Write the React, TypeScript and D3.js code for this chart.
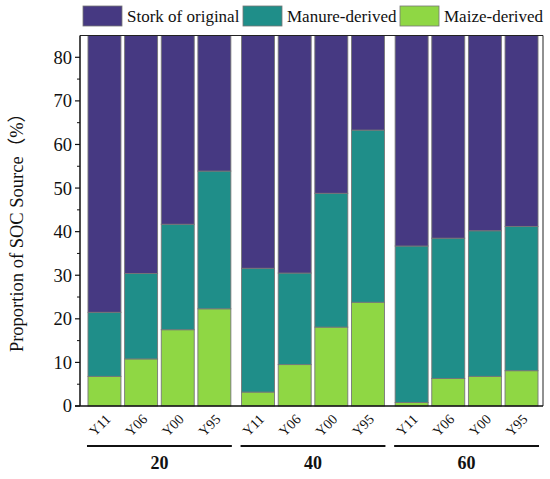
import React from "react";
import * as d3 from "d3";

const groups = ["20", "40", "60"];
const years = ["Y11", "Y06", "Y00", "Y95"];
const seriesKeys = ["maize", "manure", "stork"];
const seriesLabels = ["Stork of original", "Manure-derived", "Maize-derived"];
const maize = [
  [6.8, 10.8, 17.5, 22.3],
  [3.2, 9.5, 18.1, 23.8],
  [0.8, 6.3, 6.8, 8.1],
];
const manure = [
  [14.7, 19.6, 24.2, 31.6],
  [28.4, 21.0, 30.7, 39.5],
  [35.9, 32.2, 33.4, 33.1],
];
const stork = [
  [78.5, 69.6, 58.3, 46.1],
  [68.4, 69.5, 51.2, 36.7],
  [63.3, 61.5, 59.8, 58.8],
];
const yTicks = [0, 10, 20, 30, 40, 50, 60, 70, 80];
const yMinorTicks = [5, 15, 25, 35, 45, 55, 65, 75];

const colors: Record<string, string> = {
  stork: "#463982",
  manure: "#1f8e89",
  maize: "#8fd744",
};
const legendKeys = ["stork", "manure", "maize"];

const FONT = "'Liberation Serif', 'Times New Roman', 'Noto Sans CJK SC', serif";

export default function App() {
  const rows: any[] = [];
  groups.forEach((g, gi) =>
    years.forEach((yr, i) =>
      rows.push({ group: g, year: yr, maize: maize[gi][i], manure: manure[gi][i], stork: stork[gi][i] })
    )
  );
  const stacked = d3.stack<any>().keys(seriesKeys)(rows);

  const plotTop = 35.5;
  const plotBottom = 406;
  const plotLeft = 80;
  const plotRight = 543;

  const y = d3.scaleLinear().domain([0, 85]).range([plotBottom, plotTop]).clamp(true);
  const x0 = d3.scaleBand<string>().domain(groups).range([80, 546]).paddingInner(0.0697).paddingOuter(0.052);
  const x1 = d3.scaleBand<string>().domain(years).range([0, x0.bandwidth()]).paddingInner(0.1).paddingOuter(0);

  const legendX = [83, 243, 400];

  return (
    <svg width={550} height={479} style={{ position: "absolute", left: 0, top: 0 }} fontFamily={FONT}>
      <rect x={0} y={0} width={550} height={479} fill="#fff" />
      {/* legend */}
      {legendKeys.map((k, i) => (
        <g key={k}>
          <rect x={legendX[i]} y={6} width={39} height={20} fill={colors[k]} stroke="#777" strokeWidth={0.8} />
          <text x={legendX[i] + 44} y={22} fontSize={17} fill="#111">
            {seriesLabels[i]}
          </text>
        </g>
      ))}
      {/* bars */}
      {stacked.map((s) => (
        <g key={s.key} fill={colors[s.key]}>
          {s.map((d: any, i: number) => {
            const r = d.data;
            const bx = (x0(r.group) as number) + (x1(r.year) as number);
            const yt = y(d[1]);
            const yb = y(d[0]);
            return (
              <rect
                key={i}
                x={bx}
                y={yt}
                width={x1.bandwidth()}
                height={Math.max(0, yb - yt)}
                stroke="#777"
                strokeWidth={0.9}
              />
            );
          })}
        </g>
      ))}
      {/* frame */}
      <line x1={plotLeft} x2={plotRight} y1={plotTop} y2={plotTop} stroke="#222" strokeWidth={1} />
      <line x1={plotRight} x2={plotRight} y1={plotTop} y2={plotBottom} stroke="#222" strokeWidth={1} />
      <line x1={plotLeft} x2={plotLeft} y1={plotTop} y2={plotBottom} stroke="#111" strokeWidth={1.5} />
      <line x1={plotLeft - 5} x2={plotRight} y1={plotBottom} y2={plotBottom} stroke="#111" strokeWidth={1.5} />
      {/* y ticks */}
      {yTicks.map((t) => (
        <g key={t}>
          <line x1={plotLeft - 5} x2={plotLeft} y1={y(t)} y2={y(t)} stroke="#111" strokeWidth={1.2} />
          <text x={72} y={y(t)} dy="0.35em" textAnchor="end" fontSize={18.5} fill="#111">
            {t}
          </text>
        </g>
      ))}
      {yMinorTicks.map((t) => (
        <line key={t} x1={plotLeft - 3} x2={plotLeft} y1={y(t)} y2={y(t)} stroke="#111" strokeWidth={1} />
      ))}
      {/* y title */}
      <text transform="translate(23,228) rotate(-90)" textAnchor="middle" fontSize={18.5} fill="#111">
        Proportion of SOC Source（%）
      </text>
      {/* x tick labels */}
      {rows.map((r, i) => {
        const cx = (x0(r.group) as number) + (x1(r.year) as number) + x1.bandwidth() / 2;
        return (
          <text
            key={i}
            transform={`translate(${cx + 7},${420}) rotate(-45)`}
            textAnchor="end"
            fontSize={14}
            fill="#111"
          >
            {r.year}
          </text>
        );
      })}
      {/* group lines & labels */}
      {groups.map((g) => {
        const gx = x0(g) as number;
        return (
          <g key={g}>
            <line x1={gx - 1} x2={gx + x0.bandwidth() + 1} y1={446} y2={446} stroke="#111" strokeWidth={2} />
            <text x={gx + x0.bandwidth() / 2} y={469} textAnchor="middle" fontSize={18} fontWeight="bold" fill="#111">
              {g}
            </text>
          </g>
        );
      })}
    </svg>
  );
}
